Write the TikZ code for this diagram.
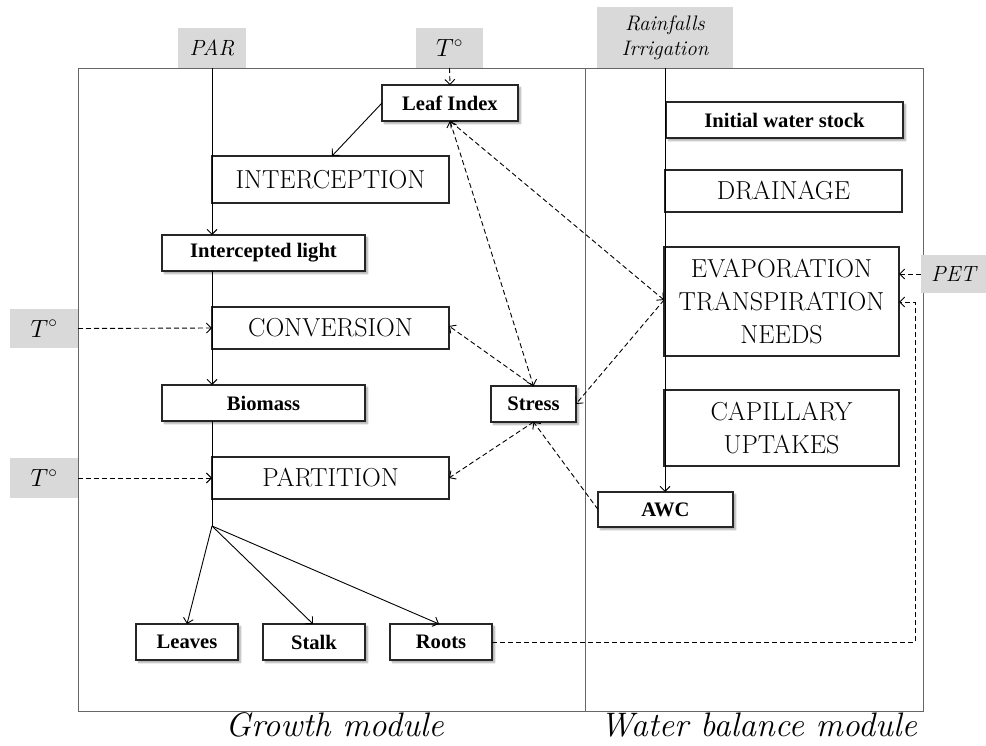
\documentclass[tikz,border=0pt]{standalone}
\usepackage{fontspec}
\newfontfamily\timesf{Liberation Serif}
\usetikzlibrary{arrows.meta,shadows.blur}
\begin{document}
\begin{tikzpicture}[x=1pt,y=-1pt,
  every node/.style={inner sep=0pt,outer sep=0pt},
  bigbox/.style={draw=black!85,line width=1.2pt,fill=white,align=center,font=\fontsize{26}{33}\selectfont},
  smallbox/.style={draw=black!85,line width=1.2pt,fill=white,align=center,minimum height=36pt,
     font=\timesf\bfseries\fontsize{20.6}{22}\selectfont,
     blur shadow={shadow xshift=2.5pt,shadow yshift=-2.5pt,shadow blur steps=6,shadow opacity=35}},
  graybox/.style={fill=black!15,align=center,font=\itshape\fontsize{22}{25}\selectfont},
  solidarrow/.style={line width=0.9pt,-{Straight Barb[length=5pt,width=10pt]}},
  dasharrow/.style={line width=0.9pt,dash pattern=on 5pt off 3pt,-{Straight Barb[length=5pt,width=10pt]}},
  dashboth/.style={line width=0.9pt,dash pattern=on 5pt off 3pt,{Straight Barb[length=5pt,width=10pt]}-{Straight Barb[length=5pt,width=10pt]}},
  modlabel/.style={font=\itshape\fontsize{34}{38}\selectfont}
]
\useasboundingbox (0,0) rectangle (986,746);
% frame
\draw[black!60,line width=0.8pt] (78,68) rectangle (923,711);
\draw[black!60,line width=0.8pt] (585,68) -- (585,711);

% input boxes
\node[graybox,minimum width=68pt,minimum height=40pt] (par) at (212,48) {PAR};
\node[graybox,minimum width=67pt,minimum height=40pt,font=\fontsize{24}{28}\selectfont] (ttop) at (449.5,48) {$T^\circ$};
\node[graybox,minimum width=136pt,minimum height=61pt,font=\itshape\fontsize{21}{25}\selectfont] (rain) at (665,37.5) {Rainfalls\\Irrigation};
\node[graybox,minimum width=68pt,minimum height=39pt,font=\fontsize{24}{28}\selectfont] (tl1) at (44,328.5) {$T^\circ$};
\node[graybox,minimum width=68pt,minimum height=40pt,font=\fontsize{24}{28}\selectfont] (tl2) at (44,478) {$T^\circ$};
\node[graybox,minimum width=65pt,minimum height=38pt] (pet) at (953.5,274) {PET};

% growth module
\node[smallbox,minimum width=136pt] (leaf) at (450,103) {Leaf Index};
\node[bigbox,minimum width=237pt,minimum height=47pt] (interc) at (330.5,179.5) {INTERCEPTION};
\node[smallbox,minimum width=203pt] (ilight) at (263.5,253) {Intercepted light};
\node[bigbox,minimum width=237pt,minimum height=42pt] (conv) at (330.5,328) {CONVERSION};
\node[smallbox,minimum width=203pt] (bio) at (263.5,403) {Biomass};
\node[bigbox,minimum width=237pt,minimum height=42pt] (part) at (330.5,478) {PARTITION};
\node[smallbox,minimum width=102pt] (leaves) at (187,642) {Leaves};
\node[smallbox,minimum width=102pt] (stalk) at (314,642) {Stalk};
\node[smallbox,minimum width=102pt] (roots) at (441,642) {Roots};
\node[smallbox,minimum width=85pt] (stress) at (533.5,404) {Stress};

% water balance module
\node[smallbox,minimum width=237pt] (iws) at (784.5,120) {Initial water stock};
\node[bigbox,minimum width=237pt,minimum height=42pt] (drain) at (783.5,191) {DRAINAGE};
\node[bigbox,minimum width=235pt,minimum height=109pt] (evap) at (781.5,301.5) {EVAPORATION\\TRANSPIRATION\\NEEDS};
\node[bigbox,minimum width=235pt,minimum height=76pt] (cap) at (781.5,428) {CAPILLARY\\UPTAKES};
\node[smallbox,minimum width=135pt,minimum height=35pt] (awc) at (665.5,509.5) {AWC};

% module labels
\node[modlabel] (lgrowth) at (334.5,725) {Growth module};
\node[modlabel] (lwater) at (758.5,725) {Water balance module};

% solid flow
\coordinate (br) at (212,526);
\draw[line width=0.9pt] (par.south) -- (interc.north west);
\draw[solidarrow] (interc.north west) -- (ilight.north -| par.south);
\draw[solidarrow] (ilight.south -| par.south) -- (bio.north -| par.south);
\draw[line width=0.9pt] (bio.south -| par.south) -- (br);
\draw[solidarrow] (br) -- (leaves.north);
\draw[solidarrow] (br) -- ([xshift=-1pt]stalk.north);
\draw[solidarrow] (br) -- ([xshift=-2pt]roots.north);
\draw[solidarrow] (leaf.west) -- ([xshift=1.5pt]interc.north);
\draw[solidarrow] (rain.south) -- (awc.north -| rain.south);

% dashed influences
\draw[dasharrow] (ttop.south) -- (leaf.north);
\draw[dasharrow] (tl1.east) -- (conv.west);
\draw[dasharrow] (tl2.east) -- (part.west);
\draw[dasharrow] (pet.west) -- (pet.west -| evap.east);
\coordinate (rt) at (915,302);
\draw[dasharrow] (roots.east) -| (rt) -- (rt -| evap.east);
\coordinate (evin) at (664,300);
\draw[dashboth] (leaf.south) -- (stress.north);
\draw[dashboth] (leaf.south) -- (evin);
\draw[dasharrow] (stress.north) -- ([yshift=2pt]conv.east);
\draw[dasharrow] (evin) -- (stress.east);
\draw[dasharrow] (stress.south) -- (part.east);
\draw[dasharrow] (awc.west) -- (stress.south);
\end{tikzpicture}
\end{document}
